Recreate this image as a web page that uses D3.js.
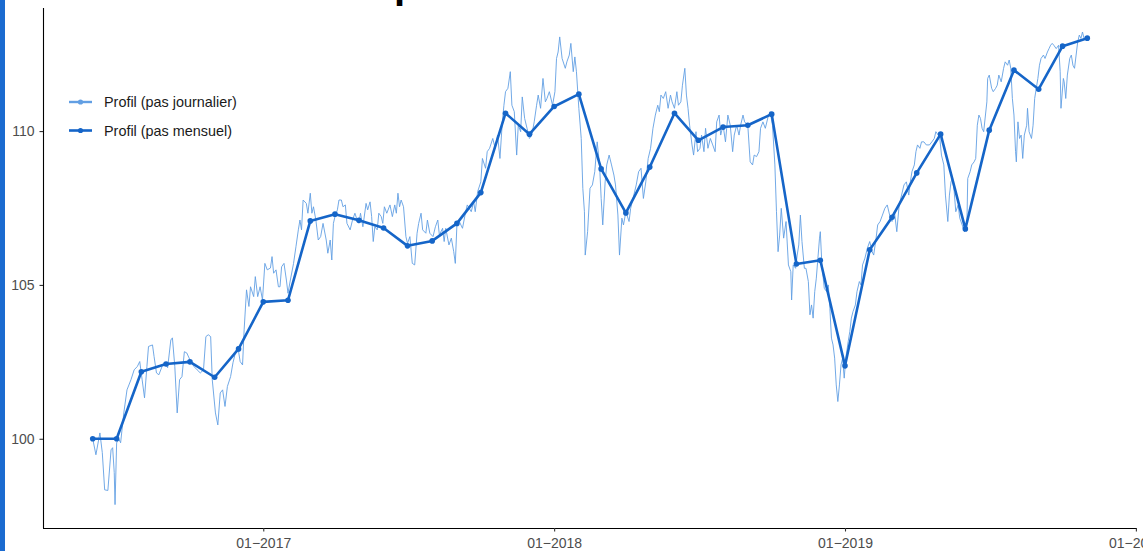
<!DOCTYPE html>
<html>
<head>
<meta charset="utf-8">
<script src="https://cdn.jsdelivr.net/npm/d3@7"></script>
<style>
  body { margin: 0; background: #fff; }
  svg { display: block; font-family: "Liberation Sans", Arial, Helvetica, sans-serif; }
</style>
</head>
<body>
<svg id="chart" width="1143" height="551"></svg>
<script>
// monthly profile, one value per month start
var monthLabels = ["2016-06","2016-07","2016-08","2016-09","2016-10","2016-11","2016-12",
    "2017-01","2017-02","2017-03","2017-04","2017-05","2017-06","2017-07","2017-08","2017-09","2017-10","2017-11","2017-12",
    "2018-01","2018-02","2018-03","2018-04","2018-05","2018-06","2018-07","2018-08","2018-09","2018-10","2018-11","2018-12",
    "2019-01","2019-02","2019-03","2019-04","2019-05","2019-06","2019-07","2019-08","2019-09","2019-10","2019-11"];
var monthlyValues = [100, 100, 102.18, 102.43, 102.5, 102.0, 102.92,
    104.45, 104.5, 107.08, 107.3, 107.1, 106.85, 106.27, 106.43, 107.0, 108.0, 110.58, 109.9,
    110.8, 111.2, 108.77, 107.34, 108.83, 110.58, 109.7, 110.13, 110.19, 110.55, 105.68, 105.8,
    102.37, 106.14, 107.2, 108.64, 109.9, 106.82, 110.03, 111.98, 111.36, 112.76, 113.02];

// daily profile, days counted from 2016-06-01
var dailyStart = "2016-06-01";
var dailyDays = [
    0,4,9,12,15,19,23,25,27,28,
    30,32,35,39,43,48,52,56,59,62,
    65,68,70,75,77,80,83,87,91,94,
    98,100,103,106,109,112,115,118,123,127,
    131,135,139,142,145,148,150,154,157,160,
    163,166,169,173,176,179,182,185,188,190,
    193,196,198,202,204,207,210,213,216,219,
    223,225,227,230,233,235,237,240,243,245,
    248,252,255,258,260,262,264,268,270,273,
    275,277,280,283,286,289,293,295,298,300,
    302,304,307,309,312,314,317,319,323,326,
    329,331,334,336,339,343,345,348,350,352,
    354,357,359,362,364,366,369,373,376,379,
    381,383,385,387,390,393,395,398,401,404,
    407,409,412,414,418,420,423,427,430,433,
    435,439,441,443,447,450,453,455,457,460,
    464,468,470,475,478,480,483,487,489,493,
    495,498,502,505,508,511,514,516,518,521,
    524,526,529,532,534,537,539,542,545,548,
    551,554,557,559,562,565,568,570,573,577,
    580,582,584,586,589,593,595,598,600,603,
    605,607,610,613,615,617,618,621,624,627,
    630,633,636,638,640,643,645,648,651,654,
    656,659,661,664,666,669,673,675,679,682,
    685,688,691,694,697,700,703,706,709,711,
    713,716,719,722,725,727,730,733,735,738,
    740,743,745,747,749,752,754,757,759,762,
    764,767,769,772,775,778,781,783,786,788,
    791,794,797,800,803,805,808,811,813,816,
    818,822,825,828,830,833,836,838,841,844,
    848,850,853,856,858,860,862,864,867,870,
    873,876,877,879,882,884,886,888,890,893,
    895,898,900,902,904,906,908,910,912,913,
    915,918,921,923,925,927,929,931,933,935,
    937,939,941,943,945,948,950,952,954,957,
    959,962,964,966,969,972,975,978,980,983,
    985,988,991,994,997,1000,1003,1006,1009,1012,
    1015,1018,1021,1024,1026,1028,1031,1033,1035,1038,
    1040,1043,1046,1050,1053,1056,1058,1061,1063,1065,
    1068,1070,1073,1075,1077,1079,1081,1083,1086,1088,
    1091,1094,1097,1098,1101,1103,1106,1108,1110,1112,
    1114,1116,1118,1122,1123,1125,1128,1130,1133,1135,
    1137,1140,1143,1145,1148,1150,1152,1154,1156,1158,
    1159,1161,1163,1165,1167,1169,1172,1173,1175,1178,
    1180,1182,1184,1186,1188,1190,1193,1195,1198,1200,
    1202,1204,1206,1209,1212,1214,1215,1218,1219,1221,
    1223,1226,1228,1230,1232,1234,1236,1238,1240,1242,
    1244];
var dailyValues = [
    100.0,99.48,100.19,99.55,98.34,98.32,99.64,99.71,98.9,97.86,
    99.86,100.03,99.87,100.84,101.59,101.92,102.24,102.35,102.51,101.92,
    101.33,102.35,103.0,103.05,102.67,102.14,102.08,102.35,102.47,102.31,
    103.21,103.28,102.35,100.84,101.92,102.02,102.83,102.79,102.51,102.35,
    102.24,102.14,102.24,103.32,103.38,103.32,101.92,100.84,100.45,101.49,
    101.59,101.05,101.7,102.02,102.47,102.79,103.0,102.51,102.4,103.54,
    104.84,104.3,104.94,104.62,105.27,104.62,104.94,104.51,105.7,105.49,
    105.55,105.92,105.38,105.49,104.94,104.94,105.59,105.7,105.16,104.73,
    105.16,105.7,106.24,106.79,107.11,106.79,107.76,107.65,107.33,107.98,
    107.33,107.54,107.11,106.46,106.57,107.0,106.46,106.03,106.46,105.81,
    107.0,107.22,107.44,107.76,107.76,107.54,107.6,107.0,106.79,107.11,
    107.33,107.17,107.0,107.33,106.89,107.65,107.44,107.7,107.22,106.41,
    106.89,106.79,107.33,107.22,107.0,107.54,107.33,107.6,107.22,107.6,
    107.33,107.98,107.54,107.76,107.54,106.57,106.35,106.57,105.7,105.65,
    106.68,107.0,107.33,106.79,106.68,107.11,106.68,106.57,106.89,107.11,
    106.62,106.84,106.41,106.84,106.3,106.52,106.08,105.7,106.95,107.06,
    106.84,107.38,107.6,107.38,107.7,107.38,108.03,108.35,109.11,108.79,
    109.33,109.44,109.76,109.44,109.87,109.11,110.3,110.84,111.28,111.39,
    111.93,110.84,110.63,109.22,110.19,109.98,111.11,110.41,110.09,109.76,
    109.87,110.3,110.84,111.17,110.74,111.71,110.95,111.06,111.28,110.84,
    111.28,112.36,112.57,113.06,112.36,112.04,112.25,112.47,112.85,111.93,
    112.41,111.93,110.74,109.76,108.14,107.38,105.97,106.73,108.14,108.25,
    108.68,109.65,108.9,107.81,106.95,108.35,108.9,109.22,108.9,108.57,
    108.25,107.27,105.97,107.17,106.95,107.38,107.06,107.49,107.92,108.25,
    108.68,108.79,107.81,108.35,109.11,109.44,110.09,110.52,110.84,110.63,
    111.17,111.06,111.28,110.74,111.17,110.95,110.74,111.28,110.84,110.95,
    111.49,112.04,111.17,110.74,110.19,109.55,109.22,109.98,109.33,109.44,
    109.87,109.33,110.09,109.44,109.76,109.55,109.33,110.3,110.52,109.87,
    110.19,109.65,110.52,110.19,109.33,109.87,110.19,109.87,110.19,110.52,
    110.3,110.19,109.0,108.9,109.22,109.17,109.33,110.09,110.3,110.09,
    110.52,110.63,110.19,108.9,107.38,106.08,106.62,107.49,106.52,107.06,
    105.65,105.43,104.51,105.65,105.54,105.97,106.3,107.27,106.41,105.54,
    105.54,105.11,104.03,104.35,103.92,104.78,105.22,105.87,106.52,106.73,
    105.65,104.89,104.78,105.0,104.24,103.27,103.05,102.62,101.75,101.21,
    101.75,102.4,102.62,101.97,102.62,103.16,103.48,103.92,104.13,104.35,
    104.78,105.11,105.0,105.65,105.87,106.19,106.41,106.08,105.97,106.52,
    106.95,107.06,107.27,107.49,107.6,107.27,107.06,107.38,106.73,107.6,
    107.92,108.25,108.35,107.92,108.35,108.68,108.9,109.33,109.55,109.44,
    109.65,109.65,109.55,109.55,109.65,109.76,109.98,109.87,109.76,109.22,
    108.9,107.92,107.06,107.92,108.35,108.46,108.03,107.38,107.6,107.17,
    106.95,106.73,107.06,108.46,108.68,108.9,109.0,109.11,110.19,110.52,
    110.41,110.09,109.98,110.95,111.71,111.82,111.39,111.28,111.39,111.49,
    111.82,111.6,112.04,112.25,112.14,112.31,112.04,111.06,110.52,109.33,
    109.0,110.3,109.76,109.87,109.11,109.87,110.19,110.74,109.98,109.76,
    110.19,111.06,111.39,111.71,112.14,112.36,112.47,112.36,112.57,112.68,
    112.79,112.85,112.79,112.68,112.79,111.93,110.74,111.71,111.6,111.06,
    111.82,112.36,112.47,112.14,112.04,112.47,112.9,113.12,113.01,113.22,
    113.01];

var yTicks = [100, 105, 110];
var xTickDates = ["2017-01-01", "2018-01-01", "2019-01-01", "2020-01-01"];
var xTickLabels = ["01\u22122017", "01\u22122018", "01\u22122019", "01\u22122020"];
var legendLabels = ["Profil (pas journalier)", "Profil (pas mensuel)"];
var titleText = ["\u00c9volution du ", "profil"];

var colDaily = "#629fe3",
    colMonthly = "#1565c8";

if (dailyDays.length != dailyValues.length) console.log("daily arrays differ", dailyDays.length, dailyValues.length);

var parseDay = d3.timeParse("%Y-%m-%d"),
    parseMonth = d3.timeParse("%Y-%m");

var start = parseDay(dailyStart);
var daily = dailyDays.map(function(d, i){
    return {date: d3.timeDay.offset(start, d), value: dailyValues[i]};
});
var monthly = monthLabels.map(function(m, i){
    return {date: parseMonth(m), value: monthlyValues[i]};
});

var svg = d3.select("#chart");
var plotLeft = 43, plotRight = 1137, plotTop = 8, plotBottom = 528;

// ggplot-like 5% expansion of the date range
var d0 = monthly[0].date, d1 = monthly[monthly.length - 1].date;
var pad = (d1 - d0) * 0.05;
var x = d3.scaleTime()
    .domain([new Date(+d0 - pad), new Date(+d1 + pad)])
    .range([plotLeft, plotRight]);
var y = d3.scaleLinear()
    .domain([97.1, 114.0])
    .range([plotBottom, plotTop]);

// blue strip on the left edge
svg.append("rect")
    .attr("x", 0).attr("y", 0)
    .attr("width", 5).attr("height", 551)
    .attr("fill", "#1b6bd0");

// title, mostly above the visible area
var title = svg.append("text")
    .attr("y", -2)
    .attr("font-size", 40)
    .attr("font-weight", "bold")
    .attr("fill", "#000");
var t1 = title.append("tspan").text(titleText[0]);
title.append("tspan").text(titleText[1]);
title.attr("x", 394 - t1.node().getComputedTextLength());

// axes
var yAxis = svg.append("g")
    .attr("transform", "translate(" + plotLeft + ",0)")
    .call(d3.axisLeft(y).tickValues(yTicks).tickSize(3.5).tickPadding(5).tickFormat(d3.format("d")));
var xAxis = svg.append("g")
    .attr("transform", "translate(0," + plotBottom + ")")
    .call(d3.axisBottom(x).tickValues(xTickDates.map(parseDay)).tickSize(3.5).tickPadding(7)
        .tickFormat(function(d, i){ return xTickLabels[i]; }));

[yAxis, xAxis].forEach(function(g){
    g.select(".domain").attr("stroke", "#000").attr("stroke-width", 1.1);
    g.selectAll(".tick line").attr("stroke", "#333").attr("stroke-width", 1.1);
    g.selectAll(".tick text").attr("fill", "#4d4d4d").attr("font-size", 14)
        .attr("font-family", "Liberation Sans, Arial, sans-serif");
});
yAxis.select(".domain").attr("d", "M0.5," + plotTop + "V" + plotBottom);
xAxis.select(".domain").attr("d", "M" + plotLeft + ",0.5H" + plotRight);

// daily line
var line = d3.line()
    .x(function(d){ return x(d.date); })
    .y(function(d){ return y(d.value); });

svg.append("path")
    .datum(daily)
    .attr("fill", "none")
    .attr("stroke", colDaily)
    .attr("stroke-width", 0.9)
    .attr("d", line);

// monthly line + points
svg.append("path")
    .datum(monthly)
    .attr("fill", "none")
    .attr("stroke", colMonthly)
    .attr("stroke-width", 2.6)
    .attr("stroke-linejoin", "round")
    .attr("d", line);

svg.selectAll("circle.m")
    .data(monthly)
    .enter().append("circle")
    .attr("class", "m")
    .attr("cx", function(d){ return x(d.date); })
    .attr("cy", function(d){ return y(d.value); })
    .attr("r", 2.8)
    .attr("fill", colMonthly);

// legend
var legend = svg.append("g").attr("transform", "translate(69,102)");
var legCols = [colDaily, colMonthly];
legendLabels.forEach(function(lab, i){
    var row = legend.append("g").attr("transform", "translate(0," + (i * 28.5) + ")");
    row.append("line")
        .attr("x1", 0).attr("x2", 23).attr("y1", 0).attr("y2", 0)
        .attr("stroke", legCols[i]).attr("stroke-width", i == 0 ? 2.4 : 2.6);
    row.append("circle")
        .attr("cx", 11.5).attr("cy", 0).attr("r", 2.6)
        .attr("fill", legCols[i]);
    row.append("text")
        .attr("x", 35).attr("y", 5)
        .attr("font-size", 14.4)
        .attr("fill", "#1a1a1a")
        .text(lab);
});
</script>
</body>
</html>
